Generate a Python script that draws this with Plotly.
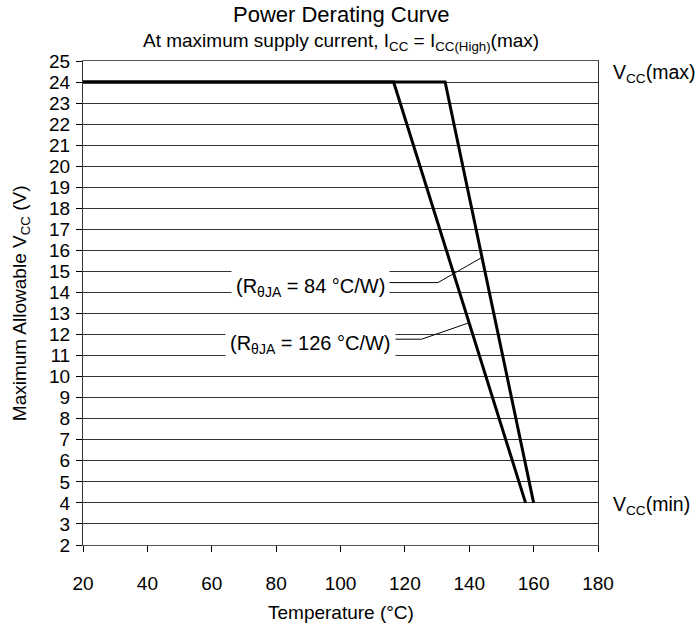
import plotly.graph_objects as go

# ---- data ----
temps_84 = [20, 132.5, 160]
vcc_84 = [24, 24, 4]
temps_126 = [20, 116.5, 157.5]
vcc_126 = [24, 24, 4]

leader_84_t = [112, 130.3, 144.0]
leader_84_v = [14.47, 14.47, 15.67]
leader_126_t = [112, 125.2, 139.95]
leader_126_v = [11.78, 11.78, 12.56]

x_ticks = [20, 40, 60, 80, 100, 120, 140, 160, 180]
y_ticks = list(range(2, 26))

FONT = "Liberation Sans, Arial, sans-serif"
FS = 19

fig = go.Figure()
for t, v in [(temps_126, vcc_126), (temps_84, vcc_84)]:
    fig.add_trace(go.Scatter(x=t, y=v, mode="lines",
                             line=dict(color="black", width=3),
                             showlegend=False, hoverinfo="skip"))
for t, v in [(leader_84_t, leader_84_v), (leader_126_t, leader_126_v)]:
    fig.add_trace(go.Scatter(x=t, y=v, mode="lines",
                             line=dict(color="black", width=1),
                             showlegend=False, hoverinfo="skip"))

fig.update_layout(
    width=697, height=631,
    margin=dict(l=83, r=99, t=61, b=86),
    paper_bgcolor="white", plot_bgcolor="white",
    font=dict(family=FONT, size=FS, color="black"),
    showlegend=False,
)
fig.update_xaxes(range=[20, 180], tickvals=x_ticks, ticks="outside", ticklen=6,
                 tickcolor="black", showgrid=False, zeroline=False,
                 showline=True, linecolor="#555", linewidth=1, mirror=True,
                 ticklabelstandoff=15, tickfont=dict(size=FS))
fig.update_yaxes(range=[2, 25], tickvals=y_ticks, ticks="outside", ticklen=6,
                 tickcolor="black", showgrid=True, gridcolor="#333", gridwidth=1,
                 zeroline=False, showline=True, linecolor="#333", linewidth=1,
                 mirror=True, ticklabelstandoff=2, tickfont=dict(size=FS))

anns = [
    dict(text="Power Derating Curve", x=0.5, y=1.097, xref="paper", yref="paper",
         font=dict(size=22), showarrow=False, xanchor="center", yanchor="middle"),
    dict(text="At maximum supply current, I<sub>CC</sub> = I<sub>CC(High)</sub>(max)",
         x=0.5, y=1.039, xref="paper", yref="paper", font=dict(size=FS),
         showarrow=False, xanchor="center", yanchor="middle"),
    dict(text="Maximum Allowable V<sub>CC</sub> (V)", x=-0.12, y=0.5, xref="paper",
         yref="paper", textangle=-90, font=dict(size=FS), showarrow=False,
         xanchor="center", yanchor="middle"),
    dict(text="Temperature (°C)", x=0.5, y=-0.14, xref="paper", yref="paper",
         font=dict(size=FS), showarrow=False, xanchor="center", yanchor="middle"),
    dict(text="V<sub>CC</sub>(max)", x=1, xshift=13, y=24.4, xref="paper", yref="y",
         font=dict(size=19.5), showarrow=False, xanchor="left", yanchor="middle"),
    dict(text="V<sub>CC</sub>(min)", x=1, xshift=13, y=3.9, xref="paper", yref="y",
         font=dict(size=19.5), showarrow=False, xanchor="left", yanchor="middle"),
    dict(text="(R<sub>θJA</sub> = 84 °C/W)", x=90.7, y=14.25, xref="x", yref="y",
         font=dict(size=20), showarrow=False, xanchor="center", yanchor="middle",
         bgcolor="white", borderpad=4),
    dict(text="(R<sub>θJA</sub> = 126 °C/W)", x=90.7, y=11.55, xref="x", yref="y",
         font=dict(size=20), showarrow=False, xanchor="center", yanchor="middle",
         bgcolor="white", borderpad=4),
]
fig.update_layout(annotations=anns)

fig.write_html("out.html", config={"displayModeBar": False},
               post_script="document.body.style.margin='0';document.body.style.overflow='hidden';")
